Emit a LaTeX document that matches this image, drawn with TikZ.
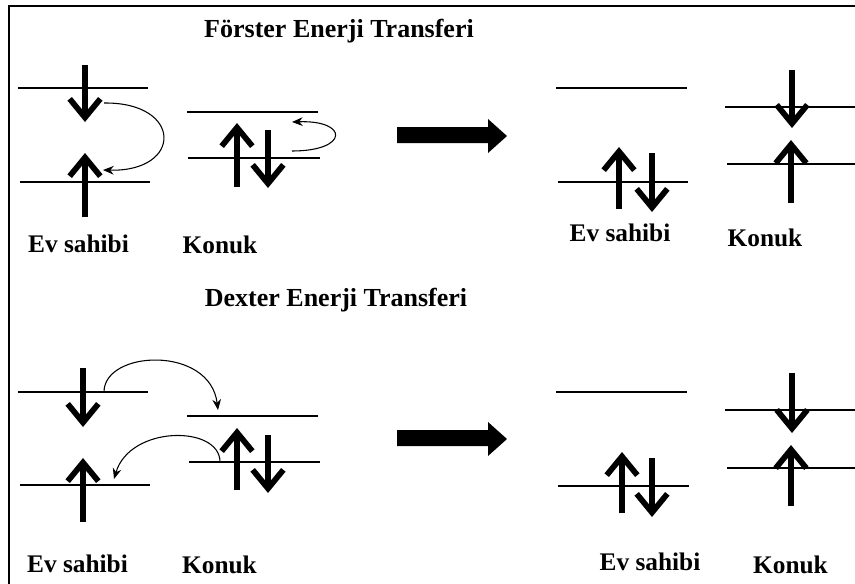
\documentclass[tikz,border=0pt]{standalone}
\usepackage{fontspec}
\setmainfont{Liberation Serif}
\usetikzlibrary{arrows.meta}
\tikzset{
  level/.style={line width=1.5pt},
  spin/.style={line width=3.8pt, line join=miter,
    -{Straight Barb[length=14pt,width=23pt,line width=4.3pt]}},
  hop/.style={line width=0.8pt, -{Stealth[length=8pt,width=6.5pt]}},
  lbl/.style={anchor=base, inner sep=0pt, font=\fontsize{19}{22}\selectfont\bfseries},
  ttl/.style={anchor=base, inner sep=0pt, font=\fontsize{19.5}{22}\selectfont\bfseries},
  bigarrow/.style={fill=black, draw=none}
}
\begin{document}
\begin{tikzpicture}[x=0.75pt,y=-0.75pt]
\useasboundingbox (0,0) rectangle (855,583);
\clip (0,0) rectangle (855,583);
% frame
\draw[line width=1.8pt] (9,600) -- (9,6) -- (870,6);

% ===================== Förster =====================
\node[ttl] (t1) at (339,37) {Förster Enerji Transferi};

% host (left)
\draw[level] (18,88) -- (148,88);
\draw[level] (20,182) -- (150,182);
\coordinate (h1d0) at (85,65);  \coordinate (h1d1) at (85,122);
\coordinate (h1u0) at (85,217); \coordinate (h1u1) at (85,153);
\draw[spin] (h1d0) -- (h1d1);
\draw[spin] (h1u0) -- (h1u1);
\coordinate (c1a) at (104,103); \coordinate (c1b) at (103,170);
\draw[hop] (c1a) .. controls (183,102) and (183,172) .. (c1b);

% guest (left)
\draw[level] (187,112) -- (318,112);
\draw[level] (188,158) -- (320,158);
\coordinate (g1u0) at (237,187); \coordinate (g1u1) at (237,123);
\coordinate (g1d0) at (268,130); \coordinate (g1d1) at (268,188);
\draw[spin] (g1u0) -- (g1u1);
\draw[spin] (g1d0) -- (g1d1);
\coordinate (c2a) at (292,151); \coordinate (c2b) at (292,122);
\draw[hop] (c2a) .. controls (349,151) and (349,120) .. (c2b);

\node[lbl] (l1) at (78.5,252) {Ev sahibi};
\node[lbl] (l2) at (220,253) {Konuk};

% big arrow
\fill[bigarrow] (397,127) -- (488,127) -- (488,119) -- (507,136) -- (488,153) -- (488,143) -- (397,143) -- cycle;

% host (right)
\draw[level] (556,88) -- (687,88);
\draw[level] (558,182) -- (688,182);
\coordinate (h2u0) at (619,209); \coordinate (h2u1) at (619,147);
\coordinate (h2d0) at (652,153); \coordinate (h2d1) at (652,212);
\draw[spin] (h2u0) -- (h2u1);
\draw[spin] (h2d0) -- (h2d1);

% guest (right)
\draw[level] (725,107) -- (860,107);
\draw[level] (727,164) -- (860,164);
\coordinate (g2d0) at (792,70);  \coordinate (g2d1) at (792,128);
\coordinate (g2u0) at (791,203); \coordinate (g2u1) at (791,140);
\draw[spin] (g2d0) -- (g2d1);
\draw[spin] (g2u0) -- (g2u1);

\node[lbl] (l3) at (620,241) {Ev sahibi};
\node[lbl] (l4) at (765,246) {Konuk};

% ===================== Dexter =====================
\node[ttl] (t2) at (336,306) {Dexter Enerji Transferi};

% host (left)
\draw[level] (18,392) -- (148,392);
\draw[level] (20,485) -- (150,485);
\coordinate (h3d0) at (83,368); \coordinate (h3d1) at (83,427);
\coordinate (h3u0) at (83,522); \coordinate (h3u1) at (83,458);
\draw[spin] (h3d0) -- (h3d1);
\draw[spin] (h3u0) -- (h3u1);

% guest (left)
\draw[level] (187,416) -- (318,416);
\draw[level] (189,462) -- (320,462);
\coordinate (g3u0) at (237,490); \coordinate (g3u1) at (237,428);
\coordinate (g3d0) at (268,435); \coordinate (g3d1) at (268,493);
\draw[spin] (g3u0) -- (g3u1);
\draw[spin] (g3d0) -- (g3d1);

\coordinate (c3a) at (104,392); \coordinate (c3b) at (218,410);
\draw[hop] (c3a) .. controls (104,350) and (210,345) .. (c3b);
\coordinate (c4a) at (220,462); \coordinate (c4b) at (114,479);
\draw[hop] (c4a) .. controls (220,425) and (130,425) .. (c4b);

\node[lbl] (l5) at (77.5,572) {Ev sahibi};
\node[lbl] (l6) at (219.5,573) {Konuk};

% big arrow
\fill[bigarrow] (397,430) -- (488,430) -- (488,422) -- (507,439) -- (488,456) -- (488,446) -- (397,446) -- cycle;

% host (right)
\draw[level] (556,392) -- (687,392);
\draw[level] (558,486) -- (689,486);
\coordinate (h4u0) at (622,513); \coordinate (h4u1) at (622,452);
\coordinate (h4d0) at (652,458); \coordinate (h4d1) at (652,517);
\draw[spin] (h4u0) -- (h4u1);
\draw[spin] (h4d0) -- (h4d1);

% guest (right)
\draw[level] (725,410) -- (860,410);
\draw[level] (727,468) -- (860,468);
\coordinate (g4d0) at (792,373); \coordinate (g4d1) at (792,433);
\coordinate (g4u0) at (791,506); \coordinate (g4u1) at (791,445);
\draw[spin] (g4d0) -- (g4d1);
\draw[spin] (g4u0) -- (g4u1);

\node[lbl] (l7) at (650,570) {Ev sahibi};
\node[lbl] (l8) at (790.5,573) {Konuk};
\end{tikzpicture}
\end{document}
